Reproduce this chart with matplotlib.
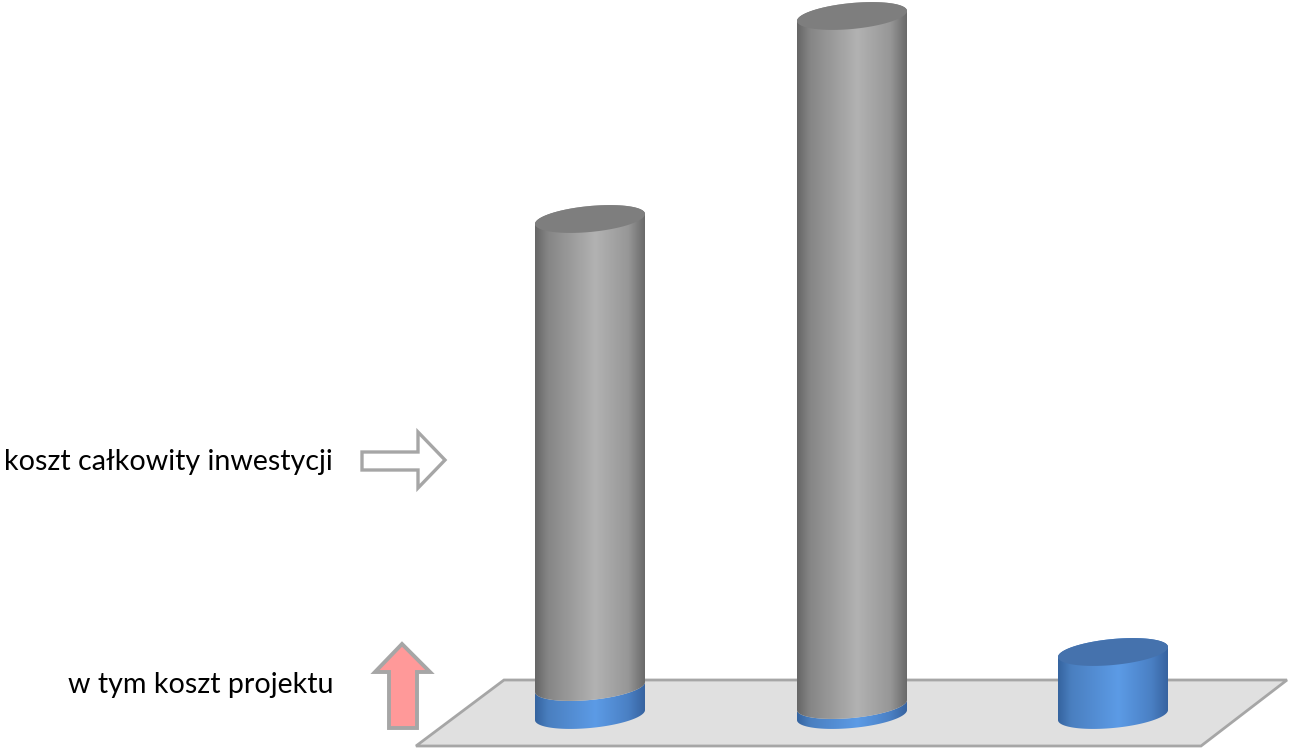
import numpy as np
import matplotlib
matplotlib.use("Agg")
import matplotlib.pyplot as plt
from matplotlib.patches import Polygon
from matplotlib.colors import LinearSegmentedColormap

# Data (arbitrary cost units)
koszt_calkowity = [49.6, 69.9, 6.3]   # total investment cost
koszt_projektu = [2.8, 1.0, 6.3]      # of which: project cost
label_total = "koszt całkowity inwestycji"
label_project = "w tym koszt projektu"

W, H = 1291, 750
BASE_PX = 715          # pixel row of the cylinder bases
PX_PER_UNIT = 10       # vertical scale

fig = plt.figure(figsize=(W / 100, H / 100), dpi=100)
ax = fig.add_axes([0, 0, 1, 1])
ax.set_xlim(0, W)
ax.set_ylim((BASE_PX - H) / PX_PER_UNIT, BASE_PX / PX_PER_UNIT)
ax.axis("off")


def yu(ypx):
    """Convert a pixel row into data units."""
    return (BASE_PX - ypx) / PX_PER_UNIT


# cylinder geometry
centers = [590, 852, 1113]
A = 55                 # half width (px)
B = 1.3                # ellipse half height (units)
SHEAR = 0.5 / A        # tilt of the ellipses

gray_side = LinearSegmentedColormap.from_list(
    "gray_side",
    [(0.0, "#666666"), (0.12, "#868686"), (0.55, "#b2b2b2"),
     (0.85, "#979797"), (1.0, "#6a6a6a")])
blue_side = LinearSegmentedColormap.from_list(
    "blue_side",
    [(0.0, "#35649f"), (0.12, "#4a7fc0"), (0.55, "#5c9be6"),
     (0.85, "#4a80c4"), (1.0, "#3763a0")])
GRAY_TOP = "#7e7e7e"
BLUE_TOP = "#4572ad"


def arc(cx, y, t0, t1, n=120):
    t = np.linspace(t0, t1, n)
    dx = A * np.cos(t)
    return np.column_stack([cx + dx, y + B * np.sin(t) + SHEAR * dx])


def side(cx, y0, y1, cmap, capped, z):
    lower = arc(cx, y0, np.pi, 2 * np.pi)
    if capped:
        upper = arc(cx, y1, 0, np.pi)
    else:
        upper = arc(cx, y1, 2 * np.pi, np.pi)
    pts = np.vstack([lower, upper])
    poly = Polygon(pts, closed=True, fill=False, lw=0, zorder=z)
    ax.add_patch(poly)
    grad = np.linspace(0, 1, 256).reshape(1, -1)
    im = ax.imshow(grad, cmap=cmap, aspect="auto", interpolation="bilinear",
                   extent=(cx - A, cx + A, y0 - 3 * B, y1 + 3 * B),
                   zorder=z)
    im.set_clip_path(poly)


def top(cx, y, color, z):
    ax.add_patch(Polygon(arc(cx, y, 0, 2 * np.pi), closed=True,
                         facecolor=color, edgecolor="none", zorder=z))


# floor
floor = [(504, 680), (1287, 680), (1201, 746), (416, 746)]
ax.add_patch(Polygon([(x, yu(y)) for x, y in floor], closed=True,
                     facecolor="#e0e0e0", edgecolor="#a6a6a6", lw=2.0,
                     joinstyle="miter", zorder=1))

for i, cx in enumerate(centers):
    total = koszt_calkowity[i]
    proj = koszt_projektu[i]
    z = 3 + i
    if total > proj:
        side(cx, 0, proj, blue_side, False, z)
        side(cx, proj, total, gray_side, True, z)
        top(cx, total, GRAY_TOP, z + 0.5)
    else:
        side(cx, 0, proj, blue_side, True, z)
        top(cx, proj, BLUE_TOP, z + 0.5)
ax.set_xlim(0, W)
ax.set_ylim((BASE_PX - H) / PX_PER_UNIT, BASE_PX / PX_PER_UNIT)

# legend-like arrows
right_arrow = [(362, 452), (418, 452), (418, 432), (445, 460), (418, 488),
               (418, 470), (362, 470)]
ax.add_patch(Polygon([(x, yu(y)) for x, y in right_arrow], closed=True,
                     facecolor="white", edgecolor="#a6a6a6", lw=2.4,
                     joinstyle="miter", zorder=10))
up_arrow = [(402, 644), (430, 672), (417, 672), (417, 728), (389, 728),
            (389, 672), (375, 672)]
ax.add_patch(Polygon([(x, yu(y)) for x, y in up_arrow], closed=True,
                     facecolor="#ff9999", edgecolor="#a6a6a6", lw=2.8,
                     joinstyle="miter", zorder=10))

font = dict(family=["Lato", "DejaVu Sans"], fontsize=20.6, color="black")
ax.text(333, yu(470), label_total, ha="right", va="baseline", **font)
ax.text(333, yu(693), label_project, ha="right", va="baseline", **font)

fig.savefig("out.png", dpi=100)
